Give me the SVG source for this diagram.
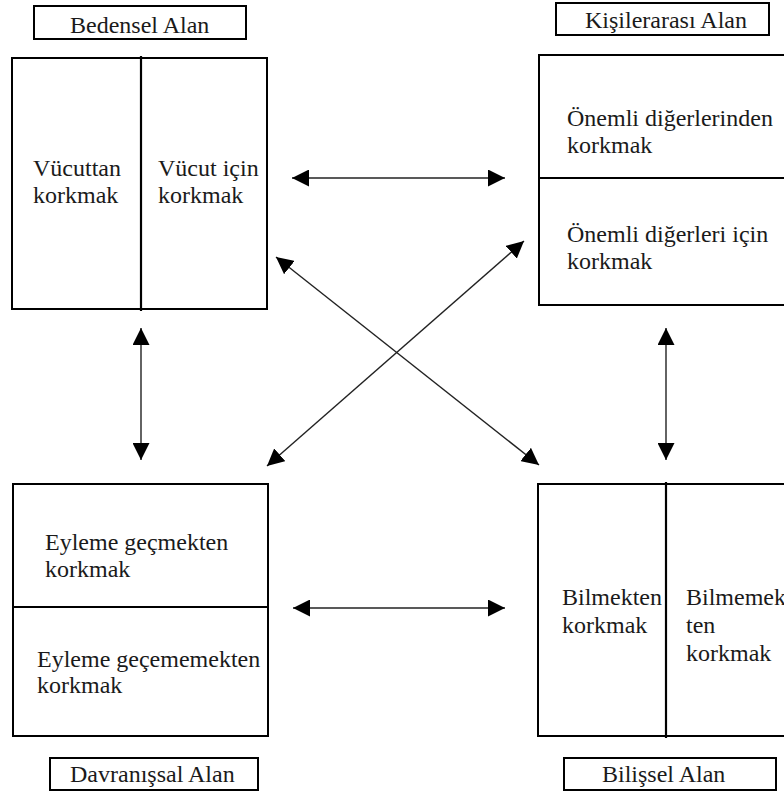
<svg xmlns="http://www.w3.org/2000/svg" width="784" height="796" viewBox="0 0 784 796">
<style>
.box{fill:#fff;stroke:#000;stroke-width:2}
.div{stroke:#000;stroke-width:2.2}
.t{font-family:"Liberation Serif","Times New Roman",serif;font-size:24px;fill:#1a1a1a}
.arr{stroke:#222;stroke-width:1.4;fill:none;marker-start:url(#ah);marker-end:url(#ah)}
</style>
<defs>
<marker id="ah" viewBox="0 0 17 17" markerWidth="17" markerHeight="17" refX="17" refY="8.5" markerUnits="userSpaceOnUse" orient="auto-start-reverse">
<path d="M0,0 L17,8.5 L0,17 z" fill="#000"/>
</marker>
</defs>
<rect width="784" height="796" fill="#fff"/>

<g id="bedensel-label">
<rect class="box" x="34" y="6" width="212" height="33"/>
<text class="t" x="70" y="33">Bedensel Alan</text>
</g>
<g id="bedensel">
<rect class="box" x="12" y="58" width="255" height="251"/>
<line class="div" x1="141" y1="56" x2="141" y2="311"/>
<text class="t" x="33" y="176">Vücuttan</text>
<text class="t" x="33" y="203">korkmak</text>
<text class="t" x="158" y="176">Vücut için</text>
<text class="t" x="158" y="203">korkmak</text>
</g>

<g id="kisilerarasi-label">
<rect class="box" x="556" y="3" width="213" height="32"/>
<text class="t" x="585" y="28">Kişilerarası Alan</text>
</g>
<g id="kisilerarasi">
<rect class="box" x="539" y="55" width="260" height="250"/>
<line class="div" x1="539" y1="178" x2="790" y2="178"/>
<text class="t" x="567" y="126">Önemli diğerlerinden</text>
<text class="t" x="567" y="153">korkmak</text>
<text class="t" x="567" y="242">Önemli diğerleri için</text>
<text class="t" x="567" y="269">korkmak</text>
</g>

<g id="davranissal">
<rect class="box" x="13" y="484" width="255" height="252"/>
<line class="div" x1="13" y1="607" x2="268" y2="607"/>
<text class="t" x="45" y="550">Eyleme geçmekten</text>
<text class="t" x="45" y="577">korkmak</text>
<text class="t" x="37" y="667">Eyleme geçememekten</text>
<text class="t" x="37" y="693">korkmak</text>
</g>
<g id="davranissal-label">
<rect class="box" x="50" y="758" width="208" height="32"/>
<text class="t" x="70" y="782">Davranışsal Alan</text>
</g>

<g id="bilissel">
<rect class="box" x="538" y="484" width="260" height="252"/>
<line class="div" x1="666" y1="482" x2="666" y2="738"/>
<text class="t" x="562" y="605">Bilmekten</text>
<text class="t" x="562" y="633">korkmak</text>
<text class="t" x="686" y="605">Bilmemek</text>
<text class="t" x="686" y="633">ten</text>
<text class="t" x="686" y="661">korkmak</text>
</g>
<g id="bilissel-label">
<rect class="box" x="564" y="758" width="212" height="32"/>
<text class="t" x="602" y="782">Bilişsel Alan</text>
</g>

<g id="connectors">
<line class="arr" x1="292" y1="178" x2="505" y2="178"/>
<line class="arr" x1="293" y1="608" x2="505" y2="608"/>
<line class="arr" x1="141" y1="328" x2="141" y2="460"/>
<line class="arr" x1="666" y1="328" x2="666" y2="460"/>
<line class="arr" x1="276" y1="257" x2="539" y2="465"/>
<line class="arr" x1="267" y1="466" x2="524" y2="241"/>
</g>
</svg>
